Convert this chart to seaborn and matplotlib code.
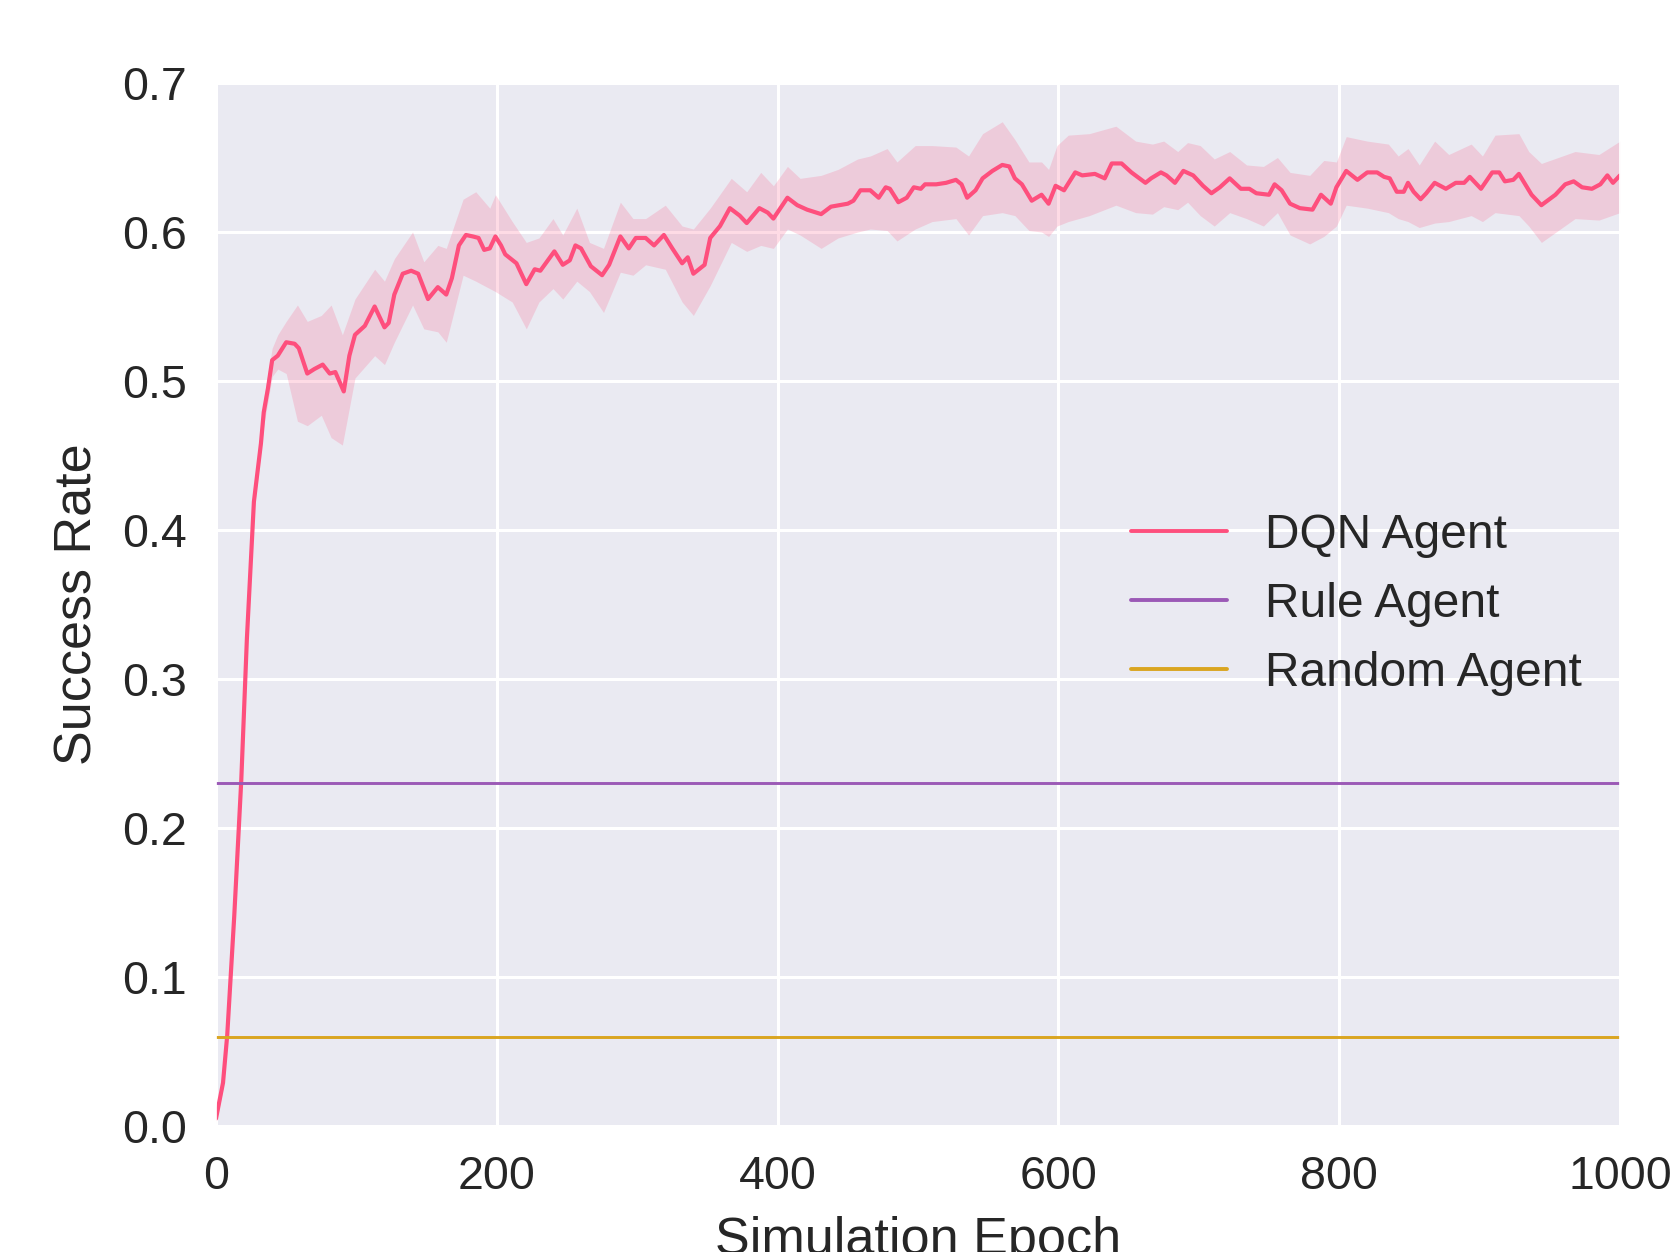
import matplotlib
matplotlib.use("Agg")
import matplotlib.pyplot as plt
import seaborn as sns
import pandas as pd

# ---------------- data ----------------
mean_epochs = [0, 5, 8, 13, 18, 22, 27, 32, 34, 37, 40, 44, 50, 56, 59, 65, 70, 76, 81, 85,
               91, 95, 99, 106, 113, 120, 123, 127, 133, 139, 144, 151, 158, 164, 168, 173,
               178, 183, 187, 191, 195, 199, 203, 206, 214, 221, 227, 231, 241, 247, 252,
               256, 260, 267, 275, 280, 288, 294, 299, 306, 312, 319, 325, 332, 336, 340,
               348, 352, 359, 366, 373, 378, 387, 393, 397, 402, 407, 414, 421, 431, 438,
               450, 454, 459, 466, 472, 477, 480, 486, 492, 497, 502, 505, 513, 520, 527,
               531, 535, 541, 546, 553, 560, 565, 569, 574, 581, 588, 593, 598, 604, 612,
               617, 626, 633, 638, 645, 652, 662, 666, 673, 677, 683, 689, 696, 703, 709,
               715, 722, 730, 736, 741, 750, 754, 759, 765, 772, 781, 787, 794, 798, 805,
               813, 820, 827, 832, 836, 841, 846, 849, 853, 858, 862, 868, 876, 883, 889,
               893, 901, 909, 914, 918, 924, 928, 937, 944, 954, 961, 967, 973, 980, 986,
               991, 995, 1000]
mean_values = [0.005, 0.029, 0.061, 0.141, 0.232, 0.327, 0.419, 0.458, 0.479, 0.495, 0.514,
               0.517, 0.526, 0.525, 0.522, 0.505, 0.508, 0.511, 0.505, 0.506, 0.493, 0.517,
               0.531, 0.537, 0.550, 0.536, 0.539, 0.558, 0.572, 0.574, 0.572, 0.555, 0.563,
               0.558, 0.569, 0.591, 0.598, 0.597, 0.596, 0.588, 0.589, 0.597, 0.591, 0.585,
               0.579, 0.565, 0.575, 0.574, 0.587, 0.578, 0.581, 0.591, 0.589, 0.577, 0.571,
               0.578, 0.597, 0.589, 0.596, 0.596, 0.591, 0.598, 0.589, 0.579, 0.583, 0.572,
               0.578, 0.596, 0.604, 0.616, 0.611, 0.606, 0.616, 0.613, 0.609, 0.616, 0.623,
               0.618, 0.615, 0.612, 0.617, 0.619, 0.621, 0.628, 0.628, 0.623, 0.630, 0.629,
               0.620, 0.623, 0.630, 0.629, 0.632, 0.632, 0.633, 0.635, 0.632, 0.623, 0.628,
               0.636, 0.641, 0.645, 0.644, 0.636, 0.632, 0.621, 0.625, 0.619, 0.631, 0.628,
               0.640, 0.638, 0.639, 0.636, 0.646, 0.646, 0.640, 0.633, 0.636, 0.640, 0.638,
               0.633, 0.641, 0.638, 0.631, 0.626, 0.630, 0.636, 0.629, 0.629, 0.626, 0.625,
               0.632, 0.628, 0.619, 0.616, 0.615, 0.625, 0.619, 0.630, 0.641, 0.635, 0.640,
               0.640, 0.637, 0.636, 0.627, 0.627, 0.633, 0.627, 0.622, 0.626, 0.633, 0.629,
               0.633, 0.633, 0.637, 0.629, 0.640, 0.640, 0.634, 0.635, 0.639, 0.625, 0.618,
               0.625, 0.632, 0.634, 0.630, 0.629, 0.632, 0.638, 0.633, 0.638]

band_epochs = [0, 5, 8, 13, 18, 22, 27, 34, 40, 44, 50, 58, 65, 75, 82, 90, 99, 113, 120,
               127, 140, 148, 158, 164, 176, 185, 195, 199, 211, 221, 230, 240, 247, 257,
               266, 276, 288, 297, 306, 320, 332, 340, 352, 367, 378, 388, 397, 407, 416,
               431, 443, 457, 466, 478, 485, 498, 510, 527, 536, 546, 560, 569, 579, 588,
               593, 599, 607, 622, 641, 655, 667, 675, 685, 692, 701, 711, 722, 734, 746,
               756, 765, 779, 789, 798, 805, 820, 835, 842, 849, 857, 868, 878, 894, 902,
               911, 928, 935, 944, 956, 968, 985, 1000]
band_low = [0.002, 0.025, 0.056, 0.135, 0.226, 0.320, 0.412, 0.470, 0.503, 0.508, 0.505,
            0.473, 0.470, 0.477, 0.462, 0.457, 0.502, 0.517, 0.511, 0.526, 0.551, 0.535,
            0.533, 0.526, 0.571, 0.567, 0.562, 0.560, 0.553, 0.535, 0.553, 0.562, 0.555,
            0.567, 0.560, 0.546, 0.573, 0.571, 0.578, 0.575, 0.553, 0.544, 0.564, 0.593,
            0.587, 0.591, 0.589, 0.602, 0.598, 0.589, 0.596, 0.600, 0.602, 0.601, 0.594,
            0.602, 0.607, 0.609, 0.598, 0.611, 0.613, 0.611, 0.601, 0.600, 0.597, 0.604,
            0.607, 0.611, 0.618, 0.613, 0.612, 0.617, 0.615, 0.620, 0.611, 0.604, 0.613,
            0.609, 0.604, 0.613, 0.598, 0.592, 0.597, 0.604, 0.618, 0.616, 0.613, 0.609,
            0.607, 0.603, 0.606, 0.607, 0.611, 0.607, 0.613, 0.611, 0.604, 0.593, 0.601,
            0.609, 0.608, 0.613]
band_high = [0.008, 0.033, 0.066, 0.147, 0.238, 0.334, 0.426, 0.488, 0.522, 0.531, 0.540,
             0.551, 0.540, 0.544, 0.551, 0.531, 0.555, 0.575, 0.567, 0.582, 0.600, 0.580,
             0.591, 0.589, 0.622, 0.627, 0.616, 0.625, 0.607, 0.593, 0.596, 0.609, 0.598,
             0.616, 0.593, 0.589, 0.620, 0.609, 0.609, 0.618, 0.604, 0.602, 0.616, 0.636,
             0.627, 0.640, 0.631, 0.644, 0.636, 0.638, 0.642, 0.649, 0.651, 0.656, 0.647,
             0.658, 0.658, 0.657, 0.651, 0.666, 0.674, 0.662, 0.647, 0.647, 0.642, 0.658,
             0.665, 0.666, 0.671, 0.661, 0.659, 0.661, 0.654, 0.660, 0.658, 0.649, 0.654,
             0.645, 0.644, 0.650, 0.640, 0.638, 0.648, 0.647, 0.664, 0.661, 0.659, 0.651,
             0.656, 0.645, 0.661, 0.652, 0.659, 0.651, 0.665, 0.666, 0.654, 0.646, 0.650,
             0.654, 0.652, 0.661]

rule_value = 0.23
random_value = 0.06
epoch_range = [0, 1000]

series_labels = ["DQN Agent", "Rule Agent", "Random Agent"]
x_ticks = [0, 200, 400, 600, 800, 1000]
y_ticks = [0.0, 0.1, 0.2, 0.3, 0.4, 0.5, 0.6, 0.7]

# ---------------- style ----------------
sns.set_theme(style="darkgrid")
plt.rcParams["font.family"] = ["Liberation Sans", "DejaVu Sans"]

dqn_color = "#fe4f7d"
rule_color = "#9b59b6"
random_color = "#daa520"

W, H = 1671, 1252
fig = plt.figure(figsize=(W / 100, H / 100), dpi=100)
ax = fig.add_axes([216 / W, 1 - 1126 / H, (1620 - 216) / W, (1126 - 83) / H])

dqn_df = pd.DataFrame({"epoch": mean_epochs, "rate": mean_values})
band_df = pd.DataFrame({"epoch": band_epochs, "low": band_low, "high": band_high})

ax.fill_between(band_df["epoch"], band_df["low"], band_df["high"],
                color=dqn_color, alpha=0.2, linewidth=0)
sns.lineplot(data=dqn_df, x="epoch", y="rate", ax=ax, color=dqn_color,
             linewidth=3.0, label=series_labels[0])
sns.lineplot(x=epoch_range, y=[rule_value] * 2, ax=ax, color=rule_color,
             linewidth=2.1, label=series_labels[1])
sns.lineplot(x=epoch_range, y=[random_value] * 2, ax=ax, color=random_color,
             linewidth=2.1, label=series_labels[2])

ax.set_xlim(0, 1000)
ax.set_ylim(0, 0.7)
ax.set_xticks(x_ticks)
ax.set_yticks(y_ticks)
ax.set_yticklabels([f"{v:.1f}" for v in y_ticks])
ax.tick_params(axis="both", labelsize=33.5, colors="#262626", pad=21, length=0)
ax.grid(True, color="white", linewidth=2.2)

ax.set_xlabel("Simulation Epoch", fontsize=37.5, color="#262626", labelpad=12)
ax.set_ylabel("Success Rate", fontsize=37.5, color="#262626", labelpad=14)

leg = ax.legend(loc="center left", bbox_to_anchor=(0.638, 0.500), frameon=False,
                fontsize=34.5, borderaxespad=0, handlelength=2.0, handletextpad=0.8,
                labelspacing=0.5)
for line in leg.get_lines():
    line.set_linewidth(2.8)

fig.savefig("out.png", dpi=100)
